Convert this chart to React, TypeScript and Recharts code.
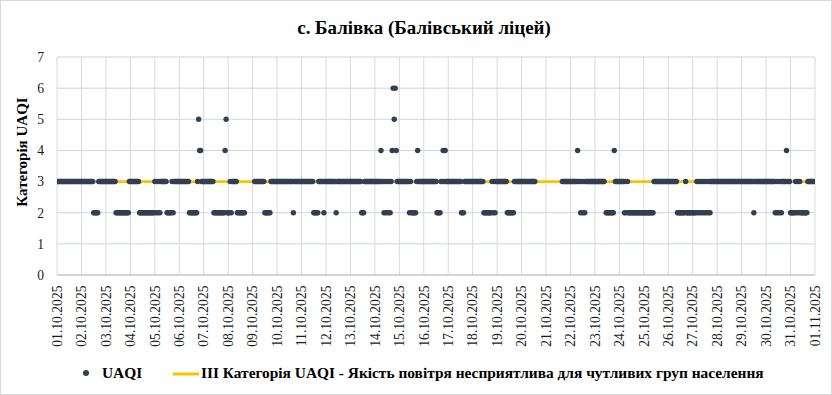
import React from 'react';
import { ComposedChart, Scatter, Line, XAxis, YAxis, CartesianGrid } from 'recharts';

// Tick labels (one per day, 01.10.2025 .. 01.11.2025)
const tickLabels: string[] = [
  '01.10.2025', '02.10.2025', '03.10.2025', '04.10.2025', '05.10.2025', '06.10.2025',
  '07.10.2025', '08.10.2025', '09.10.2025', '10.10.2025', '11.10.2025', '12.10.2025',
  '13.10.2025', '14.10.2025', '15.10.2025', '16.10.2025', '17.10.2025', '18.10.2025',
  '19.10.2025', '20.10.2025', '21.10.2025', '22.10.2025', '23.10.2025', '24.10.2025',
  '25.10.2025', '26.10.2025', '27.10.2025', '28.10.2025', '29.10.2025', '30.10.2025',
  '31.10.2025', '01.11.2025',
];

// Hourly UAQI category per day (24 chars per day, '-' = no data)
const uaqiByDay: string[] = [
  '333333333333333333333333', // 01.10
  '333333333333222223333333', // 02.10
  '333333333322222222222223', // 03.10
  '333333333222222222222222', // 04.10
  '323232333333222223233333', // 05.10
  '333333333322222222354433', // 06.10
  '333333333322222222222452', // 07.10
  '22323333322222222-------', // 08.10
  '--3333333333222222333333', // 09.10
  '333333333333333323333333', // 10.10
  '333333333333222223333323', // 11.10
  '333333333323333333333333', // 12.10
  '333333333332223333333333', // 13.10
  '333333433232323234656433', // 14.10
  '333333333323222223433333', // 15.10
  '333333333333322223343433', // 16.10
  '333333333333322233333333', // 17.10
  '333333333332222222232323', // 18.10
  '333333333322222223333333', // 19.10
  '33333333333333----------', // 20.10
  '----------------33333333', // 21.10
  '333333343323232333333333', // 22.10
  '3333333333-2222222243333', // 23.10
  '333332323222222222222222', // 24.10
  '222222222233333333333333', // 25.10
  '333333333222222223222222', // 26.10
  '222232323232323232333333', // 27.10
  '333333333333333333333333', // 28.10
  '333333333333233333333333', // 29.10
  '333333333232323233334333', // 30.10
  '222223232322222223333333', // 31.10
];

const categoryLevel = 3;
const yTicks = [0, 1, 2, 3, 4, 5, 6, 7];
const legendUaqi = 'UAQI';
const legendLevel = 'III Категорія UAQI - Якість повітря несприятлива для чутливих груп населення';
const titleText = 'с. Балівка (Балівський ліцей)';
const yLabelText = 'Категорія UAQI';

const DAYS = tickLabels.length - 1;
const points: { x: number; y: number }[] = [];
uaqiByDay.forEach((s, d) => {
  s.split('').forEach((c, h) => {
    if (c >= '0' && c <= '9') points.push({ x: d * 24 + h, y: Number(c) });
  });
});
const levelLine = [
  { x: 0, y: categoryLevel },
  { x: DAYS * 24, y: categoryLevel },
];
const xTicks = tickLabels.map((_, i) => i * 24);

const SERIF = '"Liberation Serif", "Times New Roman", serif';
const DOT = '#333f50';
const YELLOW = '#ffc000';

const XTick = (props: any) => {
  const { x, y, payload } = props;
  const label = tickLabels[Math.round(payload.value / 24)];
  return (
    <text
      x={x - 10.5}
      y={y}
      transform={`rotate(-90 ${x} ${y})`}
      textAnchor="end"
      dy="0.35em"
      fontSize={13.6}
      fontFamily={SERIF}
      fill="#1a1a1a"
    >
      {label}
    </text>
  );
};

const Dot = (props: any) => {
  const { cx, cy } = props;
  if (cx == null || cy == null) return null;
  return <circle cx={cx} cy={cy} r={2.7} fill={DOT} />;
};

export default function App() {
  return (
    <div style={{ position: 'absolute', left: 0, top: 0, width: 832, height: 395, background: '#fff' }}>
      <ComposedChart
        width={832}
        height={395}
        margin={{ top: 57, right: 17, left: 0, bottom: 40 }}
      >
        <CartesianGrid vertical={false} stroke="#c9d4e8" strokeWidth={1} />
        <CartesianGrid horizontal={false} stroke="#d9d9d9" strokeWidth={1} />
        <XAxis
          dataKey="x"
          type="number"
          domain={[0, DAYS * 24]}
          ticks={xTicks}
          interval={0}
          height={80}
          tickSize={0}
          tickMargin={0}
          tickLine={false}
          axisLine={{ stroke: '#bfbfbf' }}
          tick={<XTick />}
          allowDataOverflow
        />
        <YAxis
          dataKey="y"
          type="number"
          domain={[0, 7]}
          ticks={yTicks}
          interval={0}
          width={57}
          tickSize={0}
          tickMargin={13}
          tickLine={false}
          axisLine={false}
          tick={{ fontSize: 13.6, fontFamily: SERIF, fill: '#1a1a1a' }}
        />
        <Line
          data={levelLine}
          dataKey="y"
          stroke={YELLOW}
          strokeWidth={2.8}
          dot={false}
          activeDot={false}
          isAnimationActive={false}
        />
        <Scatter data={points} dataKey="y" shape={<Dot />} isAnimationActive={false} />
      </ComposedChart>
      <svg
        width={832}
        height={395}
        style={{ position: 'absolute', left: 0, top: 0, pointerEvents: 'none' }}
      >
        <rect x={0.5} y={0.5} width={831} height={394} fill="none" stroke="#d9d9d9" />
        <text x={424} y={34} textAnchor="middle" fontSize={18.9} fontWeight="bold" fontFamily={SERIF} fill="#000">
          {titleText}
        </text>
        <text
          x={22}
          y={152}
          transform="rotate(-90 22 152)"
          textAnchor="middle"
          dy="0.35em"
          fontSize={15}
          fontWeight="bold"
          fontFamily={SERIF}
          fill="#000"
        >
          {yLabelText}
        </text>
        <circle cx={86} cy={373} r={3} fill={DOT} />
        <text x={102} y={378} fontSize={15.4} fontWeight="bold" fontFamily={SERIF} fill="#000">
          {legendUaqi}
        </text>
        <line x1={173} x2={199} y1={374} y2={374} stroke={YELLOW} strokeWidth={3} />
        <text x={201} y={378} fontSize={15.4} fontWeight="bold" fontFamily={SERIF} fill="#000">
          {legendLevel}
        </text>
      </svg>
    </div>
  );
}
